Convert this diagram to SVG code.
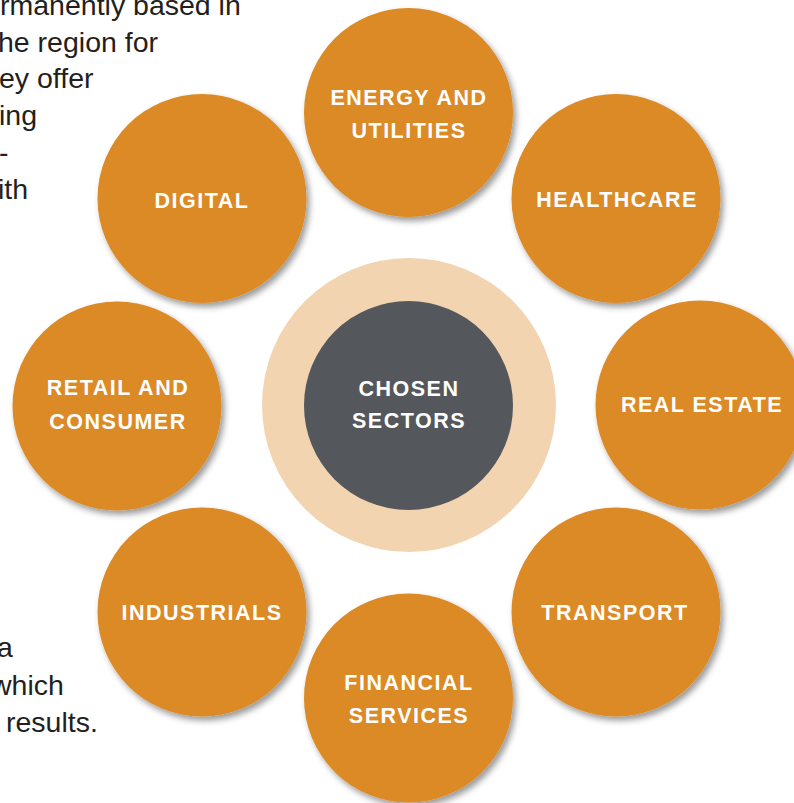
<svg xmlns="http://www.w3.org/2000/svg" width="794" height="803" viewBox="0 0 794 803">
  <defs>
    <filter id="shadow" x="-20%" y="-20%" width="145%" height="145%">
      <feDropShadow dx="3" dy="4" stdDeviation="3" flood-color="#000" flood-opacity="0.4"/>
    </filter>
  </defs>
  <style>
    .body { font-family: "Liberation Sans", Arial, sans-serif; font-size: 28.5px; fill: #231f20; }
    .sector { fill: #db8a28; filter: url(#shadow); }
    .label { font-family: "Liberation Sans", Arial, sans-serif; font-size: 21.5px; font-weight: bold; fill: #ffffff; text-anchor: middle; letter-spacing: 1.5px; }
  </style>
  <rect width="794" height="803" fill="#ffffff"/>

  <!-- surrounding paragraph text -->
  <g id="body-text">
    <text class="body" x="0" y="15">rmanently based in</text>
    <text class="body" x="-2" y="52">he region for</text>
    <text class="body" x="-1" y="88">ey offer</text>
    <text class="body" x="-1" y="125">ing</text>
    <text class="body" x="-1" y="162">-</text>
    <text class="body" x="-2" y="199">ith</text>
    <text class="body" x="-3" y="657">a</text>
    <text class="body" x="-9" y="695">which</text>
    <text class="body" x="6" y="732">results.</text>
  </g>

  <!-- hub -->
  <g id="hub">
    <circle cx="409" cy="405" r="147" fill="#f2d4b0"/>
    <circle cx="408.5" cy="405.5" r="104.5" fill="#54575b"/>
    <text class="label" x="409" y="396">CHOSEN</text>
    <text class="label" x="409" y="428">SECTORS</text>
  </g>

  <!-- sector nodes -->
  <g id="energy">
    <circle class="sector" cx="408.5" cy="112.5" r="104.5"/>
    <text class="label" x="409" y="105">ENERGY AND</text>
    <text class="label" x="409" y="138">UTILITIES</text>
  </g>
  <g id="healthcare">
    <circle class="sector" cx="616" cy="198.5" r="104.5"/>
    <text class="label" x="617" y="207">HEALTHCARE</text>
  </g>
  <g id="real-estate">
    <circle class="sector" cx="700" cy="405" r="104.5"/>
    <text class="label" x="702" y="412">REAL ESTATE</text>
  </g>
  <g id="transport">
    <circle class="sector" cx="616" cy="612" r="104.5"/>
    <text class="label" x="615" y="620">TRANSPORT</text>
  </g>
  <g id="financial">
    <circle class="sector" cx="408.5" cy="698" r="104.5"/>
    <text class="label" x="409" y="690">FINANCIAL</text>
    <text class="label" x="409" y="723">SERVICES</text>
  </g>
  <g id="industrials">
    <circle class="sector" cx="202" cy="612" r="104.5"/>
    <text class="label" x="202" y="620">INDUSTRIALS</text>
  </g>
  <g id="retail">
    <circle class="sector" cx="117" cy="406" r="104.5"/>
    <text class="label" x="118" y="395">RETAIL AND</text>
    <text class="label" x="118" y="429">CONSUMER</text>
  </g>
  <g id="digital">
    <circle class="sector" cx="202" cy="198.5" r="104.5"/>
    <text class="label" x="202" y="208">DIGITAL</text>
  </g>
</svg>
